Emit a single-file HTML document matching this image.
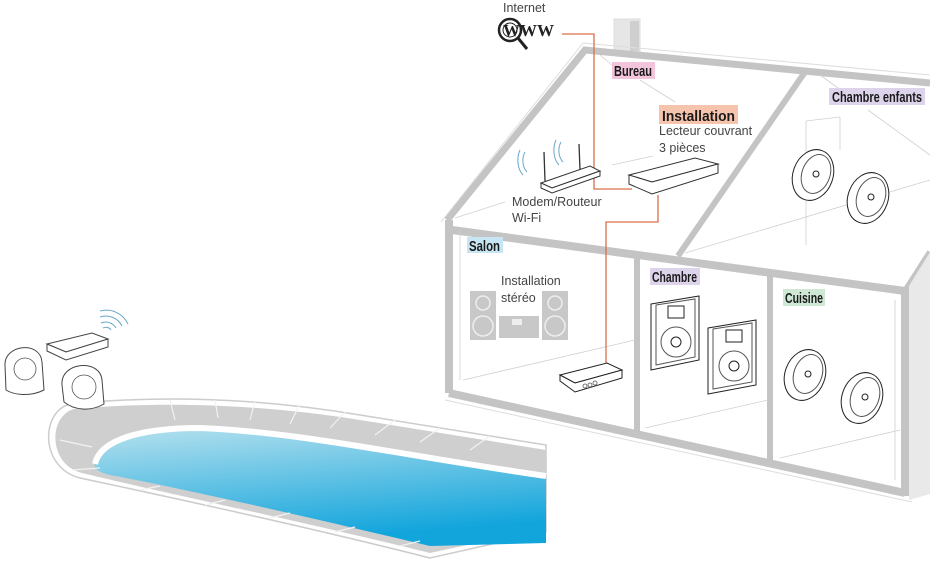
<!DOCTYPE html>
<html><head><meta charset="utf-8"><style>
html,body{margin:0;padding:0;background:#fff;}
svg{display:block;}
.t{font-family:"Liberation Sans",sans-serif;fill:#444;font-size:12.5px;}
.b{font-family:"Liberation Sans",sans-serif;font-weight:bold;fill:#1a1a1a;font-size:14.5px;}
</style></head><body>
<svg width="930" height="564" viewBox="0 0 930 564" xmlns="http://www.w3.org/2000/svg">
<defs>
<linearGradient id="w" x1="0" y1="0" x2="0.3" y2="1">
<stop offset="0" stop-color="#b7e1ee"/><stop offset="1" stop-color="#12a5dc"/></linearGradient>
</defs>

<path d="M70,404 C160,395 260,398 360,415 L546,445 L546,532 L430,558 C300,525 160,495 80,478 C40,468 40,412 70,404 Z" fill="#fff" stroke="#ccc" stroke-width="1.5"/>
<path d="M74,409 C160,401 260,404 360,420 L546,450 L546,528 L430,553 C300,521 160,492 82,473 C48,465 48,416 74,409 Z" fill="#cfcfcf"/>
<path d="M95,464 C100,440 140,428 200,428 C300,432 400,455 546,476 L546,543 L430,546 C300,515 180,488 110,475 C98,472 93,468 95,464 Z" fill="url(#w)"/>
<path d="M95,464 C100,440 140,428 200,428 C300,432 400,455 546,476" fill="none" stroke="#fff" stroke-width="6"/>
<g stroke="#f2f2f2" stroke-width="1.2">
<line x1="170" y1="400" x2="175" y2="420"/><line x1="215" y1="400" x2="218" y2="418"/><line x1="255" y1="401" x2="250" y2="420"/><line x1="300" y1="404" x2="290" y2="424"/><line x1="345" y1="412" x2="330" y2="428"/><line x1="395" y1="420" x2="375" y2="435"/><line x1="440" y1="428" x2="420" y2="442"/><line x1="490" y1="436" x2="470" y2="450"/>
<line x1="60" y1="440" x2="92" y2="447"/><line x1="72" y1="470" x2="100" y2="468"/><line x1="140" y1="490" x2="160" y2="486"/><line x1="205" y1="505" x2="225" y2="500"/><line x1="270" y1="518" x2="290" y2="513"/><line x1="335" y1="532" x2="355" y2="527"/><line x1="400" y1="546" x2="420" y2="541"/>
</g>

<path d="M6,390 L5,365 C4,345 40,340 42,362 L44,390 C30,397 14,395 6,390 Z" fill="#fff" stroke="#444" stroke-width="1"/>
<circle cx="25" cy="369" r="11" fill="none" stroke="#555" stroke-width="0.8"/>
<path d="M64,402 L62,385 C60,362 100,358 102,380 L104,404 C90,412 74,410 64,402 Z" fill="#fff" stroke="#444" stroke-width="1"/>
<circle cx="84" cy="387" r="12" fill="none" stroke="#555" stroke-width="0.8"/>
<path d="M47,344 L92,333 L108,339 L66,352 Z" fill="#fff" stroke="#444"/>
<path d="M47,344 L47,351 L66,360 L108,347 L108,339 L66,352 Z" fill="#fff" stroke="#444"/>
<g fill="none" stroke="#6aa8c8" stroke-width="1"><path d="M103,328 a6,6 0 0 1 8,2"/><path d="M101,323 a12,12 0 0 1 15,5"/><path d="M100,317 a18,18 0 0 1 22,9"/><path d="M100,311 a24,24 0 0 1 28,13"/></g>

<g fill="none" stroke="#c4c4c4">
<rect x="614" y="19" width="26" height="34" fill="#e6e6e6" stroke="#ddd"/>
<rect x="630" y="21" width="9" height="30" fill="#cfcfcf" stroke="none"/>
<path d="M447,220 L585,50 L930,83" stroke-width="7"/>
<path d="M441,222 L583,43 L930,75" stroke="#ddd" stroke-width="1"/>
<path d="M805,72 L678,256" stroke-width="6"/>
<path d="M452,230 L905,291" stroke-width="8"/>
<path d="M905,291 L930,252" stroke-width="6"/>
<path d="M449,220 L449,393" stroke-width="8"/>
<path d="M449,393 L905,493" stroke-width="8"/>
<path d="M445,400 L912,502" stroke="#ddd" stroke-width="1"/>
<path d="M905,288 L905,496" stroke-width="8"/>
<path d="M637,254 L637,432" stroke-width="6"/>
<path d="M770,274 L770,462" stroke-width="6"/>
</g>
<path d="M909,286 L930,252 L930,494 L909,500 Z" fill="#e9e9e9"/>
<g stroke="#d0d0d0" stroke-width="0.8" fill="none">
<line x1="455" y1="218" x2="505" y2="202"/><line x1="612" y1="165" x2="653" y2="156"/>
<line x1="600" y1="55" x2="612" y2="65"/><line x1="640" y1="80" x2="675" y2="102"/>
<line x1="820" y1="75" x2="838" y2="88"/><line x1="868" y1="110" x2="930" y2="155"/>
<line x1="806" y1="121" x2="840" y2="117"/><line x1="806" y1="121" x2="806" y2="245"/>
<line x1="840" y1="117" x2="840" y2="150"/><line x1="685" y1="253" x2="930" y2="180"/>
<line x1="463" y1="380" x2="635" y2="340"/><line x1="645" y1="428" x2="768" y2="400"/>
<line x1="780" y1="458" x2="900" y2="430"/><line x1="460" y1="230" x2="460" y2="380"/>
<line x1="895" y1="300" x2="895" y2="480"/>
</g>

<path d="M562,34 L594,34 L594,189 L632,189 M658,195 L658,222 L606,222 L606,366" fill="none" stroke="#d9714a" stroke-width="1.3"/>

<circle cx="510" cy="30" r="11" fill="none" stroke="#222" stroke-width="2.5"/>
<circle cx="510" cy="30" r="7" fill="none" stroke="#222" stroke-width="1"/>
<line x1="518" y1="38" x2="527" y2="49" stroke="#222" stroke-width="3"/>
<text x="503" y="36" font-family="Liberation Serif,serif" font-size="17" font-weight="bold" fill="#222">WWW</text>
<text class="t" x="503" y="12" font-size="12">Internet</text>

<path d="M541,183 L590,166 L600,171 L552,188 Z" fill="#fff" stroke="#333"/>
<path d="M541,183 L541,188 L552,193 L600,176 L600,171 L552,188 Z" fill="#fff" stroke="#333"/>
<line x1="545" y1="181" x2="544" y2="152" stroke="#333" stroke-width="1.3"/>
<line x1="580" y1="170" x2="579" y2="144" stroke="#333" stroke-width="1.3"/>
<g fill="none" stroke="#6aa8c8"><path d="M525,152 a10,14 0 0 0 2,20"/><path d="M520,150 a12,18 0 0 0 3,25"/><path d="M561,142 a10,14 0 0 0 2,20"/><path d="M556,140 a12,18 0 0 0 3,25"/></g>
<path d="M629,175 L695,158 L718,164 L652,182 Z" fill="#fff" stroke="#333"/>
<path d="M629,175 L629,184 L652,194 L718,173 L718,164 L652,182 Z" fill="#fff" stroke="#333"/>

<g fill="#fff" stroke="#222">
<ellipse cx="813" cy="175" rx="20" ry="26" transform="rotate(20 813 175)"/>
<ellipse cx="816" cy="174" rx="14" ry="20" transform="rotate(20 816 174)" stroke="#555"/>
<circle cx="816" cy="174" r="3"/>
<ellipse cx="868" cy="198" rx="20" ry="26" transform="rotate(20 868 198)"/>
<ellipse cx="871" cy="197" rx="14" ry="20" transform="rotate(20 871 197)" stroke="#555"/>
<circle cx="871" cy="197" r="3"/>
<ellipse cx="805" cy="375" rx="20" ry="26" transform="rotate(20 805 375)"/>
<ellipse cx="808" cy="374" rx="14" ry="20" transform="rotate(20 808 374)" stroke="#555"/>
<circle cx="808" cy="374" r="3"/>
<ellipse cx="862" cy="398" rx="20" ry="26" transform="rotate(20 862 398)"/>
<ellipse cx="865" cy="397" rx="14" ry="20" transform="rotate(20 865 397)" stroke="#555"/>
<circle cx="865" cy="397" r="3"/>
<path d="M651,304 L699,296 L699,360 L651,370 Z"/>
<path d="M656,305 L695,299 L695,357 L656,365 Z" stroke="#555"/>
<circle cx="676" cy="342" r="15" stroke="#555"/><circle cx="676" cy="342" r="5"/>
<rect x="668" y="306" width="16" height="12"/>
<path d="M708,328 L756,320 L756,385 L708,394 Z"/>
<path d="M713,329 L752,323 L752,382 L713,389 Z" stroke="#555"/>
<circle cx="734" cy="366" r="15" stroke="#555"/><circle cx="734" cy="366" r="5"/>
<rect x="726" y="330" width="16" height="12"/>
<path d="M560,375 L607,363 L622,370 L575,383 Z"/>
<path d="M560,375 L560,381 L575,392 L622,378 L622,370 L575,383 Z"/>
</g>
<g fill="none" stroke="#555" stroke-width="0.8"><circle cx="585" cy="386" r="2"/><circle cx="590" cy="385" r="2"/><circle cx="595" cy="383" r="2"/></g>

<g fill="#c8c8c8">
<rect x="470" y="291" width="26" height="49"/><rect x="542" y="291" width="26" height="49"/>
<rect x="499" y="316" width="40" height="22"/>
</g>
<g fill="none" stroke="#eee" stroke-width="1.5">
<circle cx="483" cy="303" r="7"/><circle cx="483" cy="326" r="10"/><circle cx="555" cy="303" r="7"/><circle cx="555" cy="326" r="10"/>
</g>
<rect x="512" y="319" width="10" height="6" fill="#eee"/>

<rect x="612" y="62" width="43" height="17" fill="#f2c5dc"/>
<text class="b" x="614" y="76" textLength="38" lengthAdjust="spacingAndGlyphs">Bureau</text>
<rect x="659" y="105" width="79" height="19" fill="#f6c3ac"/>
<text class="b" x="662" y="121" font-size="17" textLength="73" lengthAdjust="spacingAndGlyphs">Installation</text>
<text class="t" x="659" y="135">Lecteur couvrant</text>
<text class="t" x="659" y="152">3 pièces</text>
<text class="t" x="512" y="206">Modem/Routeur</text>
<text class="t" x="512" y="222">Wi-Fi</text>
<rect x="829" y="88" width="96" height="17" fill="#ddd3ea"/>
<text class="b" x="832" y="102" textLength="90" lengthAdjust="spacingAndGlyphs">Chambre enfants</text>
<rect x="467" y="237" width="36" height="16" fill="#c8e5f3"/>
<text class="b" x="469" y="251" textLength="31" lengthAdjust="spacingAndGlyphs">Salon</text>
<text class="t" x="501" y="285">Installation</text>
<text class="t" x="501" y="302">stéréo</text>
<rect x="650" y="268" width="50" height="17" fill="#ddd3ea"/>
<text class="b" x="652" y="282" textLength="45" lengthAdjust="spacingAndGlyphs">Chambre</text>
<rect x="783" y="289" width="42" height="17" fill="#cfe8d6"/>
<text class="b" x="785" y="303" textLength="38" lengthAdjust="spacingAndGlyphs">Cuisine</text>
</svg>
</body></html>
